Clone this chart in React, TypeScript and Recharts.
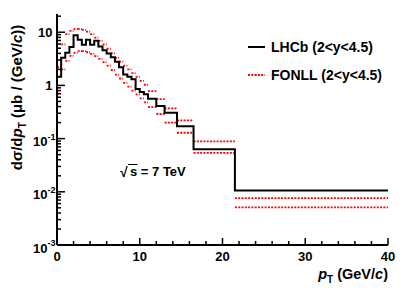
import React from 'react';
import { LineChart, Line, XAxis, YAxis, Legend, Customized } from 'recharts';

const FONT = '"Liberation Sans", Arial, Helvetica, sans-serif';

// pT bin edges (GeV/c)
const binEdges = [0, 0.5, 1, 1.5, 2, 2.5, 3, 3.5, 4, 4.5, 5, 5.5, 6, 6.5, 7, 7.5, 8, 8.5, 9, 9.5, 10, 10.5, 11, 12, 13, 14.5, 16.5, 21.5, 40];
// LHCb dσ/dpT (μb/(GeV/c)) per bin
const lhcbValues = [1.45, 3.3, 4.1, 5.3, 8.8, 7.2, 5.8, 7.2, 5.8, 6.9, 5.4, 4.6, 4.0, 3.4, 2.8, 2.2, 1.6, 1.45, 1.3, 0.86, 0.75, 0.68, 0.56, 0.41, 0.305, 0.17, 0.063, 0.0106];
// FONLL band upper / lower edge per bin
const fonllUpper = [2.2, 5.9, 9.2, 10.6, 11.4, 11.6, 11.1, 10.3, 9.2, 7.9, 6.9, 5.9, 4.9, 4.0, 3.3, 2.8, 2.35, 2.0, 1.7, 1.45, 1.22, 1.03, 0.78, 0.55, 0.37, 0.22, 0.089, 0.0076];
const fonllLower = [0.7, 2.0, 2.9, 3.6, 4.1, 4.4, 4.4, 4.2, 3.9, 3.55, 3.15, 2.75, 2.35, 1.95, 1.6, 1.35, 1.12, 0.95, 0.8, 0.68, 0.57, 0.48, 0.39, 0.29, 0.2, 0.129, 0.054, 0.0051];

const xTickValues = [0, 2, 4, 6, 8, 10, 12, 14, 16, 18, 20, 22, 24, 26, 28, 30, 32, 34, 36, 38, 40];
const xMajorTicks = [0, 10, 20, 30, 40];
const xMajorLabels = ['0', '10', '20', '30', '40'];
const yDecades = [0.001, 0.01, 0.1, 1, 10];
const yDecadeBase = ['10', '10', '10', '1', '10'];
const yDecadeExp = ['-3', '-2', '-1', '', ''];
const yMinorMultipliers = [2, 3, 4, 5, 6, 7, 8, 9];
const yDomain = [0.001, 22];
const xDomain = [0, 40];

const legendLabels = ['LHCb (2<y<4.5)', 'FONLL (2<y<4.5)'];
const energyLabel = 's = 7 TeV';

const yTicks: number[] = [];
yDecades.forEach((d) => {
  [1, ...yMinorMultipliers].forEach((m) => {
    const v = Number((m * d).toPrecision(3));
    if (v <= yDomain[1]) yTicks.push(v);
  });
});

type Row = { x: number; lhcb: number | null; up: number | null; low: number | null };
const rows: Row[] = [];
for (let i = 0; i < lhcbValues.length; i++) {
  rows.push({ x: binEdges[i], lhcb: lhcbValues[i], up: fonllUpper[i], low: fonllLower[i] });
  rows.push({ x: binEdges[i + 1], lhcb: lhcbValues[i], up: fonllUpper[i], low: fonllLower[i] });
  rows.push({ x: binEdges[i + 1], lhcb: null, up: null, low: null });
}

const decadeIndex = (v: number) => yDecades.findIndex((d) => Math.abs(v / d - 1) < 1e-6);
const isXMajor = (v: number) => xMajorTicks.indexOf(v) >= 0;

const TICK_W = 1.5;

function XTickBottom(props: any) {
  const { x, y, payload } = props;
  const v = payload.value;
  const major = isXMajor(v);
  const len = major ? 7 : 4;
  return (
    <g>
      <line x1={x} x2={x} y1={y} y2={y - len} stroke="#000" strokeWidth={TICK_W} />
      {major && (
        <text x={x} y={y + 16} textAnchor="middle" fontFamily={FONT} fontWeight="bold" fontSize={13} fill="#000">
          {xMajorLabels[xMajorTicks.indexOf(v)]}
        </text>
      )}
    </g>
  );
}

function XTickTop(props: any) {
  const { x, y, payload } = props;
  const len = isXMajor(payload.value) ? 7 : 4;
  return <line x1={x} x2={x} y1={y} y2={y + len} stroke="#000" strokeWidth={TICK_W} />;
}

function YTickLeft(props: any) {
  const { x, y, payload } = props;
  const idx = decadeIndex(payload.value);
  const major = idx >= 0;
  const len = major ? 8 : 4;
  let label: React.ReactNode = null;
  if (major) {
    const exp = yDecadeExp[idx];
    if (exp === '') {
      label = (
        <text x={x - 4.5} y={y + 4.5} textAnchor="end" fontFamily={FONT} fontWeight="bold" fontSize={13} fill="#000">
          {yDecadeBase[idx]}
        </text>
      );
    } else {
      label = (
        <text x={x - 1.5} y={y + 7.5} textAnchor="end" fontFamily={FONT} fontWeight="bold" fontSize={13} fill="#000">
          <tspan>{yDecadeBase[idx]}</tspan>
          <tspan fontSize={9} dy={-6.5}>{exp}</tspan>
        </text>
      );
    }
  }
  return (
    <g>
      <line x1={x} x2={x + len} y1={y} y2={y} stroke="#000" strokeWidth={TICK_W} />
      {label}
    </g>
  );
}

function YTickRight(props: any) {
  const { x, y, payload } = props;
  const len = decadeIndex(payload.value) >= 0 ? 8 : 4;
  return <line x1={x} x2={x - len} y1={y} y2={y} stroke="#000" strokeWidth={TICK_W} />;
}

function Annotations() {
  return (
    <g fontFamily={FONT} fontWeight="bold" fill="#000">
      {/* y title */}
      <text transform="rotate(-90)" x={-97.5} y={22} textAnchor="middle" fontSize={15}>
        <tspan>dσ/d</tspan>
        <tspan fontStyle="italic">p</tspan>
        <tspan fontSize={10} dy={4}>T</tspan>
        <tspan dy={-4}>{' (μb / (GeV/'}</tspan>
        <tspan fontStyle="italic">c</tspan>
        <tspan>))</tspan>
      </text>
      {/* x title */}
      <text x={388} y={279} textAnchor="end" fontSize={14.5}>
        <tspan fontStyle="italic">p</tspan>
        <tspan fontSize={10} dy={4}>T</tspan>
        <tspan dy={-4}>{'  (GeV/'}</tspan>
        <tspan fontStyle="italic">c</tspan>
        <tspan>)</tspan>
      </text>
      {/* sqrt s label */}
      <text x={120} y={177} fontSize={14}>√</text>
      <line x1={128} x2={137.5} y1={164.5} y2={164.5} stroke="#000" strokeWidth={1} />
      <text x={130} y={176} fontSize={13}>{energyLabel}</text>
    </g>
  );
}

function LegendBox() {
  return (
    <svg width={170} height={56} style={{ display: 'block' }}>
      <line x1={8} x2={25} y1={11} y2={11} stroke="#000" strokeWidth={2} />
      <text x={31} y={15.8} fontFamily={FONT} fontWeight="bold" fontSize={14} fill="#000">{legendLabels[0]}</text>
      <line x1={8} x2={25} y1={39} y2={39} stroke="#ff0000" strokeWidth={1.8} strokeDasharray="2 1.3" />
      <text x={31} y={43.5} fontFamily={FONT} fontWeight="bold" fontSize={14} fill="#000">{legendLabels[1]}</text>
    </svg>
  );
}

export default function App() {
  const axisLine = { stroke: '#000', strokeWidth: 2 };
  return (
    <div style={{ position: 'fixed', left: 0, top: 0, width: 409, height: 294, background: '#fff' }}>
      <LineChart width={409} height={294} data={rows} margin={{ top: 14, right: 21, bottom: 29, left: 17 }}>
        <XAxis xAxisId="b" dataKey="x" type="number" domain={xDomain} ticks={xTickValues} interval={0}
          tickSize={0} tickMargin={0} tickLine={false} tick={XTickBottom} axisLine={axisLine} height={20} allowDataOverflow />
        <XAxis xAxisId="t" orientation="top" dataKey="x" type="number" domain={xDomain} ticks={xTickValues} interval={0}
          tickSize={0} tickMargin={0} tickLine={false} tick={XTickTop} axisLine={axisLine} height={0} allowDataOverflow />
        <YAxis yAxisId="l" type="number" scale="log" domain={yDomain} ticks={yTicks} interval={0}
          tickSize={0} tickMargin={0} tickLine={false} tick={YTickLeft} axisLine={axisLine} width={40} allowDataOverflow />
        <YAxis yAxisId="r" orientation="right" type="number" scale="log" domain={yDomain} ticks={yTicks} interval={0}
          tickSize={0} tickMargin={0} tickLine={false} tick={YTickRight} axisLine={axisLine} width={0} allowDataOverflow />
        <Line xAxisId="b" yAxisId="l" dataKey="up" type="linear" stroke="#ff0000" strokeWidth={1.8}
          strokeDasharray="2 1.3" dot={false} activeDot={false} isAnimationActive={false} connectNulls={false} />
        <Line xAxisId="b" yAxisId="l" dataKey="low" type="linear" stroke="#ff0000" strokeWidth={1.8}
          strokeDasharray="2 1.3" dot={false} activeDot={false} isAnimationActive={false} connectNulls={false} />
        <Line xAxisId="b" yAxisId="l" dataKey="lhcb" type="linear" stroke="#000" strokeWidth={2}
          dot={false} activeDot={false} isAnimationActive={false} connectNulls />
        <Legend layout="vertical" align="center" verticalAlign="middle"
          wrapperStyle={{ position: 'absolute', left: 240, top: 36, width: 170, height: 56 }}
          content={() => <LegendBox />} />
        <Customized component={Annotations} />
      </LineChart>
    </div>
  );
}
